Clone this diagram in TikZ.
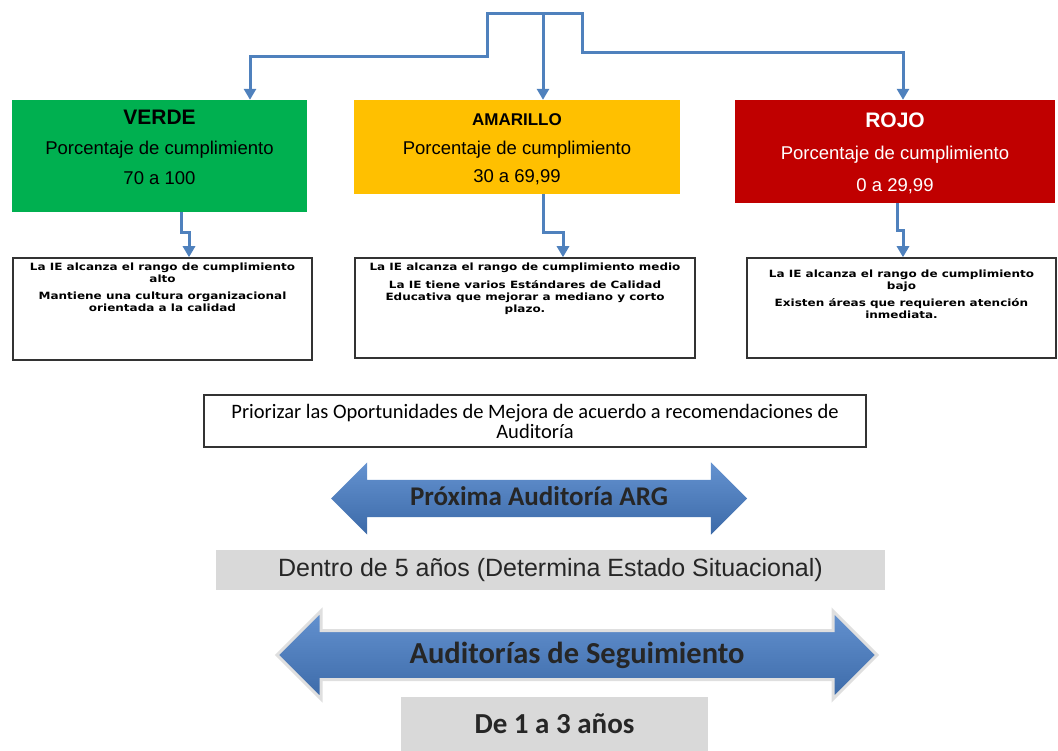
\documentclass[tikz,border=0pt]{standalone}
\usepackage{fontspec}
\setmainfont{Liberation Sans}
\newfontfamily\calibri{Carlito}
\newfontfamily\notafont[FakeStretch=1.2]{DejaVu Sans}
\usetikzlibrary{arrows.meta,shapes.arrows,positioning}

\definecolor{linkblue}{RGB}{79,129,189}
\definecolor{verdefill}{RGB}{0,176,80}
\definecolor{amarillofill}{RGB}{255,192,0}
\definecolor{rojofill}{RGB}{192,0,0}
\definecolor{arrowtop}{RGB}{100,146,208}
\definecolor{arrowbot}{RGB}{60,106,168}
\definecolor{cajagris}{RGB}{217,217,217}

\begin{document}
\begin{tikzpicture}[x=1pt,y=-1pt,
    link/.style={draw=linkblue, line width=3pt, -{Triangle[length=11pt,width=12pt]}},
    nivel/.style={inner sep=0pt},
    niveltxt/.style={align=center, inner sep=0pt, font=\fontsize{18.5}{30}\selectfont},
    nota/.style={draw=black!80, line width=1.5pt, fill=white},
    notatxt/.style={align=center, inner sep=0pt, font=\notafont\bfseries\fontsize{10}{12}\selectfont},
    flecha/.style={double arrow, double arrow tip angle=90, top color=arrowtop, bottom color=arrowbot,
      inner xsep=0pt, inner ysep=0pt, text=black!85},
    caja/.style={fill=cajagris, inner sep=0pt, text=black!85}]
  \useasboundingbox (0,0) rectangle (1058,751);

  % niveles de cumplimiento
  \node[nivel, fill=verdefill, minimum width=295pt, minimum height=112pt] (verde) at (159.5,156) {};
  \node[niveltxt, below=10.5pt of verde.north] (verdetxt)
    {{\fontsize{21}{30}\selectfont\bfseries VERDE}\\Porcentaje de cumplimiento\\70 a 100};
  \node[nivel, fill=amarillofill, minimum width=326pt, minimum height=94pt] (amarillo) at (517,147) {};
  \node[niveltxt, font=\fontsize{18.5}{28.5}\selectfont, below=14pt of amarillo.north] (amarillotxt)
    {{\fontsize{17}{28.5}\selectfont\bfseries AMARILLO}\\Porcentaje de cumplimiento\\30 a 69,99};
  \node[nivel, fill=rojofill, minimum width=320pt, minimum height=103pt] (rojo) at (895,151.5) {};
  \node[niveltxt, text=white, font=\fontsize{18.5}{32}\selectfont, below=12.5pt of rojo.north] (rojotxt)
    {{\fontsize{21}{32}\selectfont\bfseries ROJO}\\Porcentaje de cumplimiento\\0 a 29,99};

  % descripciones
  \node[nota, minimum width=299pt, minimum height=102pt] (alto) at (162.5,309) {};
  \node[notatxt, below=5pt of alto.north] (altotxt)
    {La IE alcanza el rango de cumplimiento\\alto\\[5pt]Mantiene una cultura organizacional\\orientada a la calidad};
  \node[nota, minimum width=340pt, minimum height=100pt] (medio) at (525,308) {};
  \node[notatxt, below=5pt of medio.north] (mediotxt)
    {La IE alcanza el rango de cumplimiento medio\\[6pt]La IE tiene varios Estándares de Calidad\\Educativa que mejorar a mediano y corto\\plazo.};
  \node[nota, minimum width=309pt, minimum height=100pt] (bajo) at (901.5,308) {};
  \node[notatxt, below=12pt of bajo.north] (bajotxt)
    {La IE alcanza el rango de cumplimiento\\bajo\\[5pt]Existen áreas que requieren atención\\inmediata.};

  \node[nota, fill=none, minimum width=662pt, minimum height=52pt, align=center,
    font=\calibri\fontsize{20.5}{20}\selectfont] (priorizar) at (535,421)
    {Priorizar las Oportunidades de Mejora de acuerdo a recomendaciones de\\Auditoría};

  % auditorias
  \node[flecha, minimum height=416pt, double arrow head extend=17.5pt, text height=25pt, text depth=12pt,
    font=\calibri\bfseries\fontsize{27}{27}\selectfont] (proxima) at (539,498.5) {Próxima Auditoría ARG};
  \node[caja, minimum width=669pt, minimum height=40pt, font=\fontsize{25}{25}\selectfont] (dentro) at (550.5,570)
    {Dentro de 5 años (Determina Estado Situacional)};
  \node[flecha, draw=gray!25, line width=3pt, minimum height=600pt, double arrow head extend=19.5pt,
    text height=31pt, text depth=15pt, font=\calibri\bfseries\fontsize{30.5}{30}\selectfont] (seguimiento) at (577,655)
    {Auditorías de Seguimiento};
  \node[caja, minimum width=307pt, minimum height=54pt, font=\calibri\bfseries\fontsize{29}{29}\selectfont] (anios) at (554.5,724)
    {De 1 a 3 años};

  % conectores
  \coordinate (topL) at (487,14);
  \coordinate (topM) at (543,14);
  \coordinate (topR) at (582,14);
  \draw[linkblue, line width=3pt, line cap=rect] (topL) -- (topR);
  \draw[link] (topL) -- ++(0,43) -| ([xshift=90.5pt]verde.north);
  \draw[link] (topM) -- (topM |- amarillo.north);
  \draw[link] (topR) -- ++(0,39) -| ([xshift=8pt]rojo.north);
  \draw[link] ([xshift=21.5pt]verde.south) -- ++(0,20) -| ([xshift=26.5pt]alto.north);
  \draw[link] ([xshift=26pt]amarillo.south) -- ++(0,38) -| ([xshift=38pt]medio.north);
  \draw[link] ([xshift=2pt]rojo.south) -- ++(0,27) -| ([xshift=1.5pt]bajo.north);
\end{tikzpicture}
\end{document}
